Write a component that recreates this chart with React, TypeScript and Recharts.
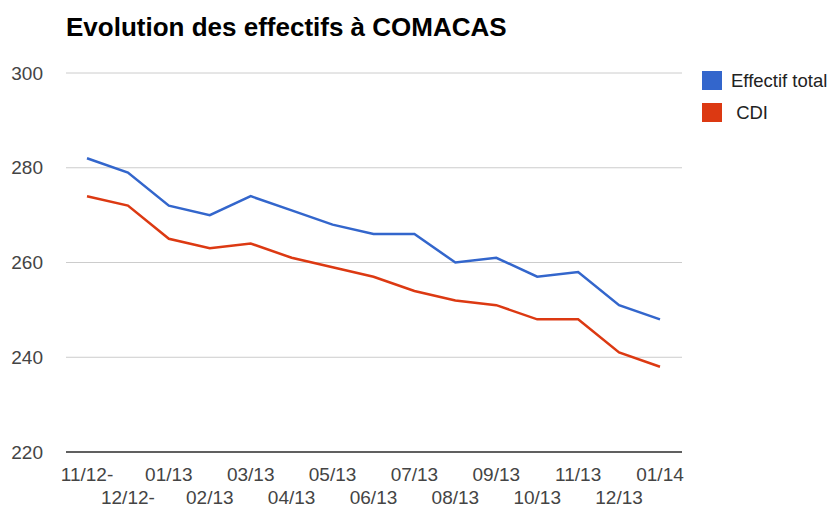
import React from "react";
import { LineChart, Line, XAxis, YAxis, CartesianGrid, Legend } from "recharts";

const months = ["11/12-", "12/12-", "01/13", "02/13", "03/13", "04/13", "05/13", "06/13", "07/13", "08/13", "09/13", "10/13", "11/13", "12/13", "01/14"];
const effectifTotal = [282, 279, 272, 270, 274, 271, 268, 266, 266, 260, 261, 257, 258, 251, 248];
const cdi = [274, 272, 265, 263, 264, 261, 259, 257, 254, 252, 251, 248, 248, 241, 238];
const yTicks = [220, 240, 260, 280, 300];

const seriesNames = ["Effectif total", " CDI"];
const seriesColors = ["#3366cc", "#dc3912"];

const data = months.map((m, i) => ({ month: m, total: effectifTotal[i], cdi: cdi[i] }));

const FONT = '"Liberation Sans", Arial, sans-serif';

const XTick = (props: any) => {
  const { x, y, payload } = props;
  const row = payload.index % 2 === 0 ? 29 : 52;
  return (
    <text x={x} y={y + row} textAnchor="middle" fill="#444" fontSize={19} fontFamily={FONT}>
      {payload.value}
    </text>
  );
};

const LegendContent = () => (
  <div style={{ fontFamily: FONT, fontSize: 18.5, color: "#222" }}>
    {seriesNames.map((n, i) => (
      <div key={n} style={{ display: "flex", alignItems: "center", height: 19, marginBottom: 13 }}>
        <div style={{ width: 20, height: 19, background: seriesColors[i], marginRight: 9 }} />
        <span style={{ whiteSpace: "pre" }}>{n}</span>
      </div>
    ))}
  </div>
);

export default function App() {
  return (
    <div style={{ position: "absolute", left: 0, top: 0, width: 834, height: 507, background: "#fff", overflow: "hidden" }}>
      <div
        style={{
          position: "absolute",
          left: 66,
          top: 12,
          fontFamily: FONT,
          fontWeight: "bold",
          fontSize: 26,
          color: "#000",
          whiteSpace: "nowrap",
          lineHeight: "30px",
        }}
      >
        Evolution des effectifs à COMACAS
      </div>
      <LineChart width={834} height={507} data={data} margin={{ top: 73, right: 152, bottom: 0, left: 0 }}>
        <CartesianGrid vertical={false} stroke="#cccccc" strokeWidth={1} />
        <XAxis
          dataKey="month"
          interval={0}
          padding={{ left: 21, right: 22 }}
          tickSize={0}
          tickMargin={0}
          tickLine={false}
          axisLine={{ stroke: "#333", strokeWidth: 1.5 }}
          tick={<XTick />}
          height={55}
        />
        <YAxis
          domain={[220, 300]}
          ticks={yTicks}
          width={66}
          axisLine={false}
          tickLine={false}
          tickSize={0}
          tickMargin={23}
          tick={{ fill: "#444", fontSize: 19, fontFamily: FONT }}
        />
        <Legend
          layout="vertical"
          align="center"
          verticalAlign="middle"
          wrapperStyle={{ position: "absolute", left: 702, top: 71, width: 132 }}
          content={<LegendContent />}
        />
        <Line type="linear" dataKey="total" name={seriesNames[0]} stroke={seriesColors[0]} strokeWidth={2.5} dot={false} isAnimationActive={false} />
        <Line type="linear" dataKey="cdi" name={seriesNames[1]} stroke={seriesColors[1]} strokeWidth={2.5} dot={false} isAnimationActive={false} />
      </LineChart>
    </div>
  );
}
